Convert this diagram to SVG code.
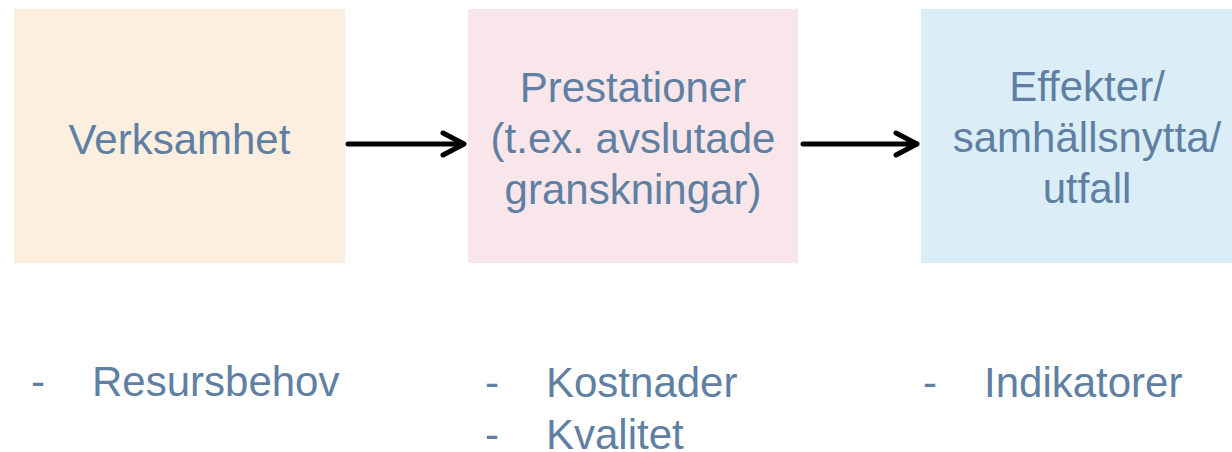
<svg xmlns="http://www.w3.org/2000/svg" width="1232" height="452" viewBox="0 0 1232 452">
  <style>
    .t { font-family: "Liberation Sans", Arial, sans-serif; font-size: 42px; fill: #5F7FA3; }
    .c { text-anchor: middle; }
    .conn { stroke: #000; stroke-width: 5; fill: none; stroke-linecap: round; stroke-linejoin: round; }
  </style>
  <rect width="1232" height="452" fill="#FFFFFF"/>
  <g id="node-verksamhet">
    <rect x="14" y="9" width="331" height="254" fill="#FCEFE0"/>
    <text class="t c" x="179.5" y="154">Verksamhet</text>
  </g>
  <g id="node-prestationer">
    <rect x="468" y="9" width="330" height="254" fill="#F8E6EA"/>
    <text class="t c" x="633" y="102">Prestationer</text>
    <text class="t c" x="633" y="153">(t.ex. avslutade</text>
    <text class="t c" x="633" y="204">granskningar)</text>
  </g>
  <g id="node-effekter">
    <rect x="921" y="9" width="311" height="254" fill="#DBEEF7"/>
    <text class="t c" x="1087" y="101">Effekter/</text>
    <text class="t c" x="1087" y="152">samhällsnytta/</text>
    <text class="t c" x="1087" y="203">utfall</text>
  </g>
  <g id="connectors">
    <path class="conn" d="M348 144 H463 M443 133 L464 144 L443 155"/>
    <path class="conn" d="M803 144 H916 M896 133 L917 144 L896 155"/>
  </g>
  <g id="list-verksamhet">
    <text class="t" x="31" y="396">-</text>
    <text class="t" x="92" y="396">Resursbehov</text>
  </g>
  <g id="list-prestationer">
    <text class="t" x="485" y="397">-</text>
    <text class="t" x="546" y="397">Kostnader</text>
    <text class="t" x="485" y="449">-</text>
    <text class="t" x="546" y="449">Kvalitet</text>
  </g>
  <g id="list-effekter">
    <text class="t" x="923" y="397">-</text>
    <text class="t" x="984" y="397">Indikatorer</text>
  </g>
</svg>
